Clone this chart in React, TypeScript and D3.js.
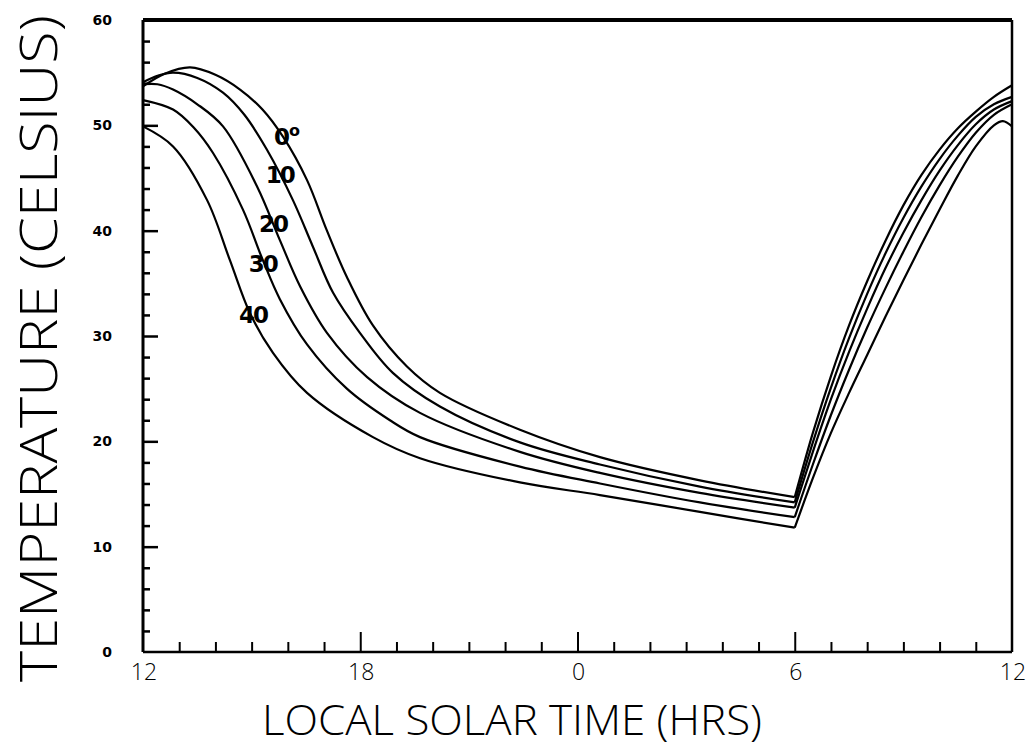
import React, { useRef, useEffect } from "react"
import * as d3 from "d3"

/* data: [local hour, temperature C], hour 24 = midnight */
const latitudes = ["0", "10", "20", "30", "40"]

const day0 = [[12, 53.7], [12.6, 54.9], [13.3, 55.5], [14.0, 54.8], [14.68, 53.4], [15.3, 51.5], [15.87, 48.9], [16.53, 44.8], [17.08, 40.0], [17.63, 35.6], [18.35, 31.0], [19.29, 27.1], [20.2, 24.6], [22.41, 21.1], [24.62, 18.5], [27.38, 16.3], [30, 14.7]]
const day10 = [[12, 54.1], [12.4, 54.7], [12.83, 55.0], [13.5, 54.5], [14.21, 53.1], [14.8, 51.0], [15.42, 47.7], [16.14, 42.9], [16.69, 38.5], [17.25, 34.1], [17.99, 30.3], [18.9, 26.5], [20.2, 23.3], [22.41, 19.9], [24.62, 17.8], [27.38, 15.7], [30, 14.2]]
const day20 = [[12, 53.9], [12.4, 53.9], [12.83, 53.4], [13.5, 52.0], [14.21, 49.9], [15.15, 44.2], [15.78, 39.1], [16.34, 34.7], [17.08, 30.3], [18.19, 26.1], [19.65, 22.7], [22.41, 19.0], [24.62, 17.0], [27.38, 15.1], [30, 13.7]]
const day30 = [[12, 52.4], [12.83, 51.5], [13.4, 49.8], [13.93, 47.4], [14.76, 42.0], [15.31, 37.2], [15.78, 33.5], [16.53, 29.2], [17.63, 25.0], [18.82, 22.0], [19.65, 20.4], [22.41, 17.6], [24.62, 16.0], [27.38, 14.2], [30, 12.8]]
const day40 = [[12, 49.9], [12.83, 48.0], [13.77, 42.9], [14.4, 37.2], [14.95, 32.2], [15.59, 28.4], [16.53, 24.6], [18.35, 20.4], [19.65, 18.4], [22.41, 16.1], [24.62, 14.9], [27.38, 13.3], [30, 11.8]]

const rise0 = [[30, 14.7], [30.5, 20.8], [31, 26.2], [31.5, 31.0], [32, 35.2], [32.5, 39.0], [33, 42.4], [33.5, 45.3], [34, 47.7], [34.5, 49.7], [35, 51.3], [35.5, 52.7], [36, 53.8]]
const rise10 = [[30, 14.2], [30.5, 19.9], [31, 25.1], [31.5, 29.8], [32, 34.0], [32.5, 37.8], [33, 41.2], [33.5, 44.2], [34, 46.8], [34.5, 49.0], [35, 50.8], [35.5, 52.0], [36, 52.7]]
const rise20 = [[30, 13.7], [30.5, 19.0], [31, 24.0], [31.5, 28.5], [32, 32.6], [32.5, 36.4], [33, 39.8], [33.5, 42.9], [34, 45.7], [34.5, 48.1], [35, 50.1], [35.5, 51.5], [36, 52.3]]
const rise30 = [[30, 12.8], [30.5, 17.8], [31, 22.5], [31.5, 26.8], [32, 30.8], [32.5, 34.5], [33, 38.0], [33.5, 41.3], [34, 44.3], [34.5, 47.0], [35, 49.3], [35.5, 51.0], [36, 52.0]]
const rise40 = [[30, 11.8], [30.5, 16.5], [31, 20.8], [31.5, 24.6], [32, 28.2], [32.5, 31.8], [33, 35.3], [33.5, 38.7], [34, 42.0], [34.5, 45.2], [35, 48.0], [35.5, 50.0], [35.75, 50.4], [36, 49.9]]

const dayCurves = [day0, day10, day20, day30, day40]
const riseCurves = [rise0, rise10, rise20, rise30, rise40]

const xTickHours = [12, 18, 24, 30, 36]
const xTickLabels = ["12", "18", "0", "6", "12"]
const yTickValues = [0, 10, 20, 30, 40, 50, 60]

const App = () => {
  const ref = useRef(null)
  const width = 1026
  const height = 747
  const margin = { top: 20, right: 14, bottom: 95, left: 143 }

  useEffect(() => {
    if (!ref.current) return
    const svg = d3.select(ref.current)
    svg.selectAll("*").remove()

    const x = d3.scaleLinear().domain([12, 36]).range([margin.left, width - margin.right])
    const y = d3.scaleLinear().domain([0, 60]).range([height - margin.bottom, margin.top])

    const line = d3
      .line()
      .x(d => x(d[0]))
      .y(d => y(d[1]))
      .curve(d3.curveCatmullRom.alpha(0.5))

    // curves: afternoon/night and the morning rise drawn apart so the 6h corner stays sharp
    const g = svg.append("g").attr("fill", "none").attr("stroke", "#000").attr("stroke-width", 2.2)
    dayCurves.forEach(c => g.append("path").attr("d", line(c)))
    riseCurves.forEach(c => g.append("path").attr("d", line(c)))

    // frame
    const frame = svg.append("g").attr("stroke", "#000").attr("fill", "none")
    frame.append("line").attr("x1", x(12)).attr("x2", x(36)).attr("y1", y(60)).attr("y2", y(60)).attr("stroke-width", 4)
    frame.append("line").attr("x1", x(36)).attr("x2", x(36)).attr("y1", y(60)).attr("y2", y(0)).attr("stroke-width", 2.5)
    frame.append("line").attr("x1", x(12)).attr("x2", x(12)).attr("y1", y(60)).attr("y2", y(0)).attr("stroke-width", 3)
    frame.append("line").attr("x1", x(12)).attr("x2", x(36)).attr("y1", y(0)).attr("y2", y(0)).attr("stroke-width", 2.5)

    // y ticks (inside), every 2 degrees
    const yAxis = d3
      .axisRight(y)
      .tickValues(d3.range(2, 60, 2))
      .tickSize(7)
      .tickFormat(() => "")
    svg
      .append("g")
      .attr("transform", `translate(${x(12)},0)`)
      .call(yAxis)
      .call(s => s.select(".domain").remove())
      .call(s =>
        s
          .selectAll(".tick line")
          .attr("stroke-width", 2.5)
          .attr("x2", d => (d % 10 === 0 ? 15 : 7))
      )

    // x ticks (inside), every hour
    const xAxis = d3
      .axisTop(x)
      .tickValues(d3.range(13, 36, 1))
      .tickSize(10)
      .tickFormat(() => "")
    svg
      .append("g")
      .attr("transform", `translate(0,${y(0)})`)
      .call(xAxis)
      .call(s => s.select(".domain").remove())
      .call(s =>
        s
          .selectAll(".tick line")
          .attr("stroke-width", 2)
          .attr("y2", d => (d % 6 === 0 ? -20 : -10))
      )

    // y tick labels
    svg
      .append("g")
      .selectAll("text")
      .data(yTickValues)
      .join("text")
      .attr("x", x(12) - 31)
      .attr("y", d => y(d) + 5)
      .attr("text-anchor", "end")
      .attr("font-family", "DejaVu Sans")
      .attr("font-weight", "bold")
      .attr("font-size", 14)
      .text(d => d)

    // x tick labels
    svg
      .append("g")
      .selectAll("text")
      .data(xTickHours)
      .join("text")
      .attr("x", d => x(d) + 1)
      .attr("y", y(0) + 28)
      .attr("text-anchor", "middle")
      .attr("font-family", "'Open Sans', 'DejaVu Sans'")
      .attr("font-weight", 300)
      .attr("font-size", 23)
      .text((d, i) => xTickLabels[i])

    // curve labels
    const labelAt = [[15.95, 48.9], [15.78, 45.3], [15.59, 40.6], [15.31, 36.8], [15.04, 32.0]]
    const lab = svg
      .append("g")
      .selectAll("text")
      .data(latitudes)
      .join("text")
      .attr("x", (d, i) => x(labelAt[i][0]))
      .attr("y", (d, i) => y(labelAt[i][1]) + 8)
      .attr("text-anchor", "middle")
      .attr("font-family", "DejaVu Sans")
      .attr("font-weight", "bold")
      .attr("font-size", 23)
      .attr("letter-spacing", -2)
      .text(d => d)
    // degree mark on the first label
    lab
      .filter((d, i) => i === 0)
      .append("tspan")
      .attr("dy", -9)
      .attr("dx", 1)
      .attr("font-size", 16)
      .text("o")

    // axis titles
    svg
      .append("text")
      .attr("x", 262)
      .attr("y", 735)
      .attr("font-family", "'Open Sans', 'DejaVu Sans'")
      .attr("font-weight", 300)
      .attr("font-size", 42)
      .attr("textLength", 500)
      .attr("lengthAdjust", "spacingAndGlyphs")
      .text("LOCAL SOLAR TIME (HRS)")

    svg
      .append("text")
      .attr("transform", "translate(57,682) rotate(-90)")
      .attr("font-family", "'Open Sans', 'DejaVu Sans'")
      .attr("font-weight", 300)
      .attr("font-size", 51)
      .attr("textLength", 667)
      .attr("lengthAdjust", "spacingAndGlyphs")
      .text("TEMPERATURE (CELSIUS)")
  }, [])

  return (
    <svg
      ref={ref}
      width={width}
      height={height}
      style={{ position: "absolute", left: 0, top: 0, background: "#fff" }}
    />
  )
}

export default App
